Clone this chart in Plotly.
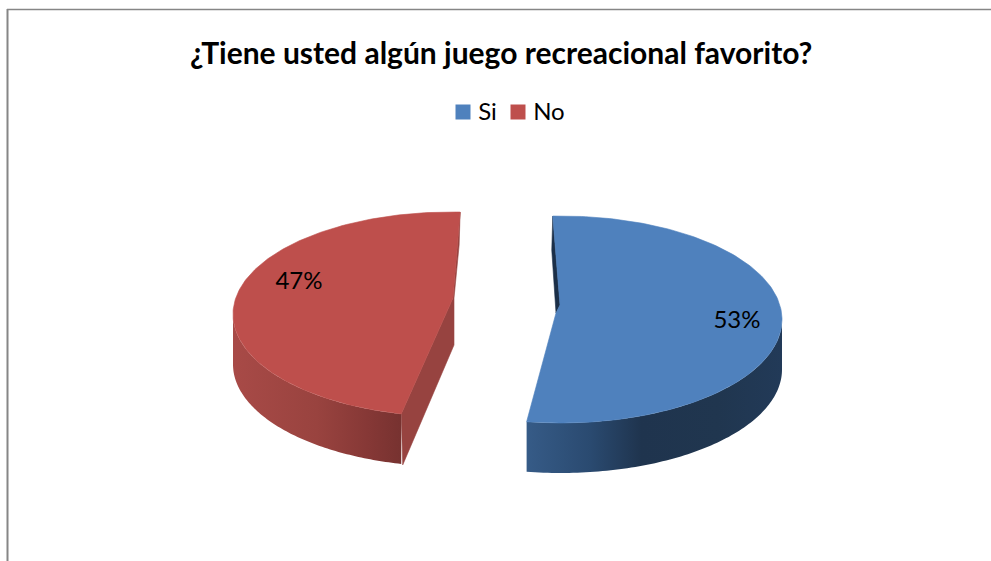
import numpy as np
import plotly.graph_objects as go

# Chart content
TITLE = "¿Tiene usted algún juego recreacional favorito?"
categories = ["Si", "No"]
shares = [53, 47]
top_colors = ["#4F81BD", "#BE4F4C"]
cut_colors = ["#1B2F48", "#974340"]
# Colour stops across the outer wall, left to right
wall_stops = [
    [(0.0, "#365B87"), (0.25, "#2A4A70"), (0.45, "#1F344E"), (0.75, "#20364F"), (1.0, "#223A58")],
    [(0.0, "#A84A47"), (0.5, "#99433F"), (0.8, "#863836"), (1.0, "#773230")],
]

# Ellipse of each slice's top face: centre, semi-axes, angle where the slice starts
# (degrees clockwise from twelve o'clock)
geometry = {
    "Si": dict(cx=560.5, cy=319.5, a=221.5, b=103.5, start=-2.0, apex=(556, 313)),
    "No": dict(cx=451.0, cy=314.3, a=218.0, b=102.3, start=193.2, apex=(453, 298)),
}
DEPTH = 50


def arc(g, t0, t1, n):
    t = np.radians(np.linspace(t0, t1, n))
    return g["cx"] + g["a"] * np.sin(t), g["cy"] - g["b"] * np.cos(t)


def polygon(x, y, color, name, lw=0.6):
    return go.Scatter(
        x=list(x), y=list(y), mode="lines", fill="toself", fillcolor=color,
        line=dict(color=color, width=lw), hoverinfo="skip", name=name, showlegend=False,
    )


fig = go.Figure()

for cat, share, top, cut, stops in zip(categories, shares, top_colors, cut_colors, wall_stops):
    g = geometry[cat]
    sweep = share * 3.6
    t0, t1 = g["start"], g["start"] + sweep
    ax_, ay_ = g["apex"]
    sx, sy = arc(g, t0, t0, 1)
    ex, ey = arc(g, t1, t1, 1)

    # Flat cut faces exposed by pulling the slices apart
    if cat == "No":
        fx, fy = ex[0], ey[0]
        bx, by = sx[0], sy[0]
        fig.add_trace(polygon(
            [fx, fx - 1, ax_ + 1, ax_ + 1, bx + 1.5, bx, ax_, fx],
            [fy, fy + 33, ay_, ay_ + 47, by + DEPTH + 1, by, ay_, fy],
            cut, "cara No"))
    else:
        fx, fy = sx[0], sy[0]
        fig.add_trace(polygon(
            [fx, fx - 1, ax_ - 1, ax_, ax_ + 4, fx],
            [fy, fy + 34, ay_ - 15, ay_, ay_ - 8, fy],
            cut, "cara Si"))

    # Outer wall, shaded across its width with a horizontal gradient
    w0, w1 = (90.0, t1) if cat == "Si" else (t0, 270.0)
    wx, wy = arc(g, w0, w1, 91)
    fig.add_trace(go.Scatter(
        x=np.r_[wx, wx[::-1]].tolist(), y=np.r_[wy, wy[::-1] + DEPTH].tolist(),
        mode="none", fill="toself",
        fillgradient=dict(type="horizontal", colorscale=[list(s) for s in stops]),
        hoverinfo="skip", name=f"pared {cat}", showlegend=False,
    ))

    # Top face of the slice
    ax, ay = arc(g, t0, t1, 181)
    if cat == "Si":
        px = np.r_[ax, ax_, ax_ + 4, ax[0]]
        py = np.r_[ay, ay_, ay_ - 8, ay[0]]
    else:
        px = np.r_[ax, ax_, ax[0]]
        py = np.r_[ay, ay_, ay[0]]
    fig.add_trace(polygon(px, py, top, cat))

# Percentage labels on the top faces
label_pos = {"Si": (737, 322), "No": (299, 283)}
for cat, share in zip(categories, shares):
    x, y = label_pos[cat]
    fig.add_trace(go.Scatter(
        x=[x], y=[y], mode="text", text=[f"{share}%"], textposition="middle center",
        textfont=dict(family="Lato", size=24, color="#000000"),
        hoverinfo="skip", showlegend=False,
    ))

# Key above the pie
key_pos = {"Si": (463, 112), "No": (518, 112)}
for cat, color in zip(categories, top_colors):
    x, y = key_pos[cat]
    fig.add_trace(go.Scatter(
        x=[x], y=[y], mode="markers", marker=dict(symbol="square", size=15, color=color),
        hoverinfo="skip", showlegend=False, name=cat,
    ))
    fig.add_trace(go.Scatter(
        x=[x + 9], y=[y + 2], mode="text", text=[f" {cat}"], textposition="middle right",
        textfont=dict(family="Lato", size=24, color="#000000"),
        hoverinfo="skip", showlegend=False, name=cat,
    ))

fig.update_layout(
    width=991, height=561, autosize=False,
    margin=dict(l=0, r=0, t=0, b=0),
    paper_bgcolor="#FFFFFF", plot_bgcolor="#FFFFFF",
    xaxis=dict(range=[0, 991], visible=False, fixedrange=True),
    yaxis=dict(range=[561, 0], visible=False, fixedrange=True),
    showlegend=False,
    annotations=[dict(
        x=501, y=52, xref="x", yref="y", text=f"<b>{TITLE}</b>", showarrow=False,
        font=dict(family="Lato", size=30, color="#000000"),
    )],
    shapes=[
        dict(type="line", xref="x", yref="y", x0=7, x1=991, y0=9.5, y1=9.5,
             line=dict(color="#868686", width=1.5)),
        dict(type="line", xref="x", yref="y", x0=7.5, x1=7.5, y0=9, y1=561,
             line=dict(color="#868686", width=2)),
    ],
)

fig.write_html("out.html", config={"displayModeBar": False})
